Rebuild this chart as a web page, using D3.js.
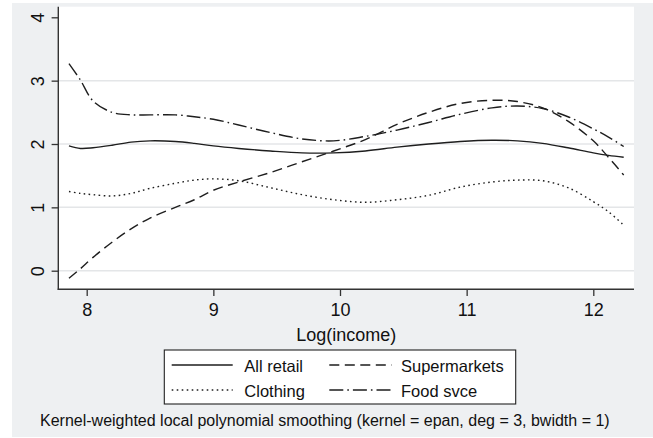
<!DOCTYPE html>
<html>
<head>
<meta charset="utf-8">
<script src="https://cdn.jsdelivr.net/npm/d3@7"></script>
<style>
  html, body { margin: 0; padding: 0; background: #fff; }
  svg { display: block; font-family: "Liberation Sans", Arial, Helvetica, sans-serif; }
</style>
</head>
<body>
<svg id="chart" width="653" height="438"></svg>
<script>
// Log(income) grid at which each smoothed series is evaluated
const logIncome = [7.86, 7.95, 8.05, 8.2, 8.35, 8.5, 8.7, 8.85, 9.0, 9.2, 9.45, 9.7,
                   9.95, 10.2, 10.45, 10.7, 10.95, 11.2, 11.4, 11.6, 11.8, 12.0, 12.12, 12.24];

const allRetail    = [1.97, 1.93, 1.94, 1.98, 2.03, 2.05, 2.04, 2.01, 1.97, 1.93, 1.89, 1.86,
                      1.86, 1.89, 1.95, 2.00, 2.04, 2.06, 2.05, 2.01, 1.94, 1.86, 1.82, 1.79];
const supermarkets = [-0.12, 0.03, 0.21, 0.45, 0.66, 0.83, 1.00, 1.12, 1.27, 1.40, 1.55, 1.72,
                      1.89, 2.07, 2.31, 2.50, 2.64, 2.69, 2.67, 2.57, 2.36, 2.05, 1.79, 1.51];
const clothing     = [1.25, 1.22, 1.20, 1.18, 1.22, 1.30, 1.38, 1.43, 1.45, 1.42, 1.31, 1.20,
                      1.12, 1.08, 1.12, 1.19, 1.32, 1.40, 1.43, 1.42, 1.31, 1.09, 0.93, 0.72];
const foodSvce     = [3.27, 3.01, 2.68, 2.50, 2.46, 2.46, 2.46, 2.43, 2.39, 2.30, 2.18, 2.08,
                      2.05, 2.12, 2.22, 2.34, 2.47, 2.57, 2.60, 2.56, 2.43, 2.24, 2.11, 1.96];

const seriesNames = ["All retail", "Supermarkets", "Clothing", "Food svce"];
const xTicks = [8, 9, 10, 11, 12];
const yTicks = [0, 1, 2, 3, 4];
const gridValues = [0, 1, 2, 3];
const xTitle = "Log(income)";
const note = "Kernel-weighted local polynomial smoothing (kernel = epan, deg = 3, bwidth = 1)";

const seriesValues = [allRetail, supermarkets, clothing, foodSvce];
const dashes = [null, "10,5.5", "1.6,3.4", "14,4,1.6,4"];

const svg = d3.select("#chart");
const W = 653, H = 438;

// plot region
const plot = { left: 58.3, right: 634, top: 6.7, bottom: 289.3 };

const x = d3.scaleLinear().domain([8, 12]).range([86.7, 593.3]);
const y = d3.scaleLinear().domain([0, 4]).range([270.7, 17.3]);

// backgrounds
svg.append("rect").attr("width", W).attr("height", H).attr("fill", "#ffffff");
svg.append("rect").attr("x", 12).attr("y", 3).attr("width", W - 12).attr("height", 434)
  .attr("fill", "#eef0f2");
svg.append("rect").attr("x", plot.left).attr("y", plot.top)
  .attr("width", plot.right - plot.left).attr("height", plot.bottom - plot.top)
  .attr("fill", "#ffffff");

// horizontal grid lines
svg.append("g").selectAll("line").data(gridValues).join("line")
  .attr("x1", plot.left).attr("x2", plot.right)
  .attr("y1", d => y(d)).attr("y2", d => y(d))
  .attr("stroke", "#e4e6e8").attr("stroke-width", 1.5);

// series lines
const line = d3.line()
  .x((d, i) => x(logIncome[i]))
  .y(d => y(d))
  .curve(d3.curveCatmullRom.alpha(0.5));

svg.append("g").selectAll("path").data(seriesValues).join("path")
  .attr("d", d => line(d))
  .attr("fill", "none")
  .attr("stroke", "#1e1e1e")
  .attr("stroke-width", 1.4)
  .attr("stroke-dasharray", (d, i) => dashes[i]);

// axes
const axisColor = "#333";
const xAxis = svg.append("g").attr("transform", `translate(0,${plot.bottom})`)
  .call(d3.axisBottom(x).tickValues(xTicks).tickSize(6.7).tickFormat(d3.format("d")));
xAxis.select(".domain").remove();
xAxis.selectAll(".tick line").attr("stroke", axisColor).attr("stroke-width", 1.3);
xAxis.selectAll(".tick text").attr("y", 26.4).attr("dy", 0)
  .attr("font-size", 18).attr("fill", "#111").attr("font-family", null);

const yAxis = svg.append("g").attr("transform", `translate(${plot.left},0)`)
  .call(d3.axisLeft(y).tickValues(yTicks).tickSize(6.7).tickFormat(d3.format("d")));
yAxis.select(".domain").remove();
yAxis.selectAll(".tick line").attr("stroke", axisColor).attr("stroke-width", 1.3);
yAxis.selectAll(".tick text")
  .attr("transform", "rotate(-90)")
  .attr("x", 0).attr("y", -14).attr("dy", 0)
  .attr("text-anchor", "middle")
  .attr("font-size", 18).attr("fill", "#111").attr("font-family", null);

svg.append("line").attr("x1", plot.left).attr("x2", plot.left)
  .attr("y1", plot.top).attr("y2", plot.bottom + 0.6)
  .attr("stroke", axisColor).attr("stroke-width", 1.4);
svg.append("line").attr("x1", plot.left - 0.6).attr("x2", plot.right)
  .attr("y1", plot.bottom).attr("y2", plot.bottom)
  .attr("stroke", axisColor).attr("stroke-width", 1.4);

// x axis title
svg.append("text")
  .attr("x", (plot.left + plot.right) / 2).attr("y", 341)
  .attr("text-anchor", "middle").attr("font-size", 18).attr("fill", "#111")
  .text(xTitle);

// legend
const legend = svg.append("g");
legend.append("rect").attr("x", 164.3).attr("y", 350).attr("width", 351.4).attr("height", 54)
  .attr("fill", "#ffffff").attr("stroke", "#222").attr("stroke-width", 1.1);

const legendPos = [
  { sx: 171.7, ex: 232.7, tx: 244.3, ly: 365 },   // All retail
  { sx: 329.3, ex: 391.7, tx: 401,   ly: 365 },   // Supermarkets
  { sx: 171.7, ex: 232.7, tx: 244.3, ly: 390 },   // Clothing
  { sx: 329.3, ex: 391.7, tx: 401,   ly: 390 }    // Food svce
];
seriesNames.forEach((name, i) => {
  const p = legendPos[i];
  legend.append("line")
    .attr("x1", p.sx).attr("x2", p.ex).attr("y1", p.ly).attr("y2", p.ly)
    .attr("stroke", "#1e1e1e").attr("stroke-width", 1.4)
    .attr("stroke-dasharray", dashes[i]);
  legend.append("text")
    .attr("x", p.tx).attr("y", p.ly + 6.5)
    .attr("font-size", 16.5).attr("fill", "#111")
    .text(name);
});

// note
svg.append("text")
  .attr("x", 40).attr("y", 426)
  .attr("font-size", 16).attr("fill", "#111")
  .text(note);
</script>
</body>
</html>
